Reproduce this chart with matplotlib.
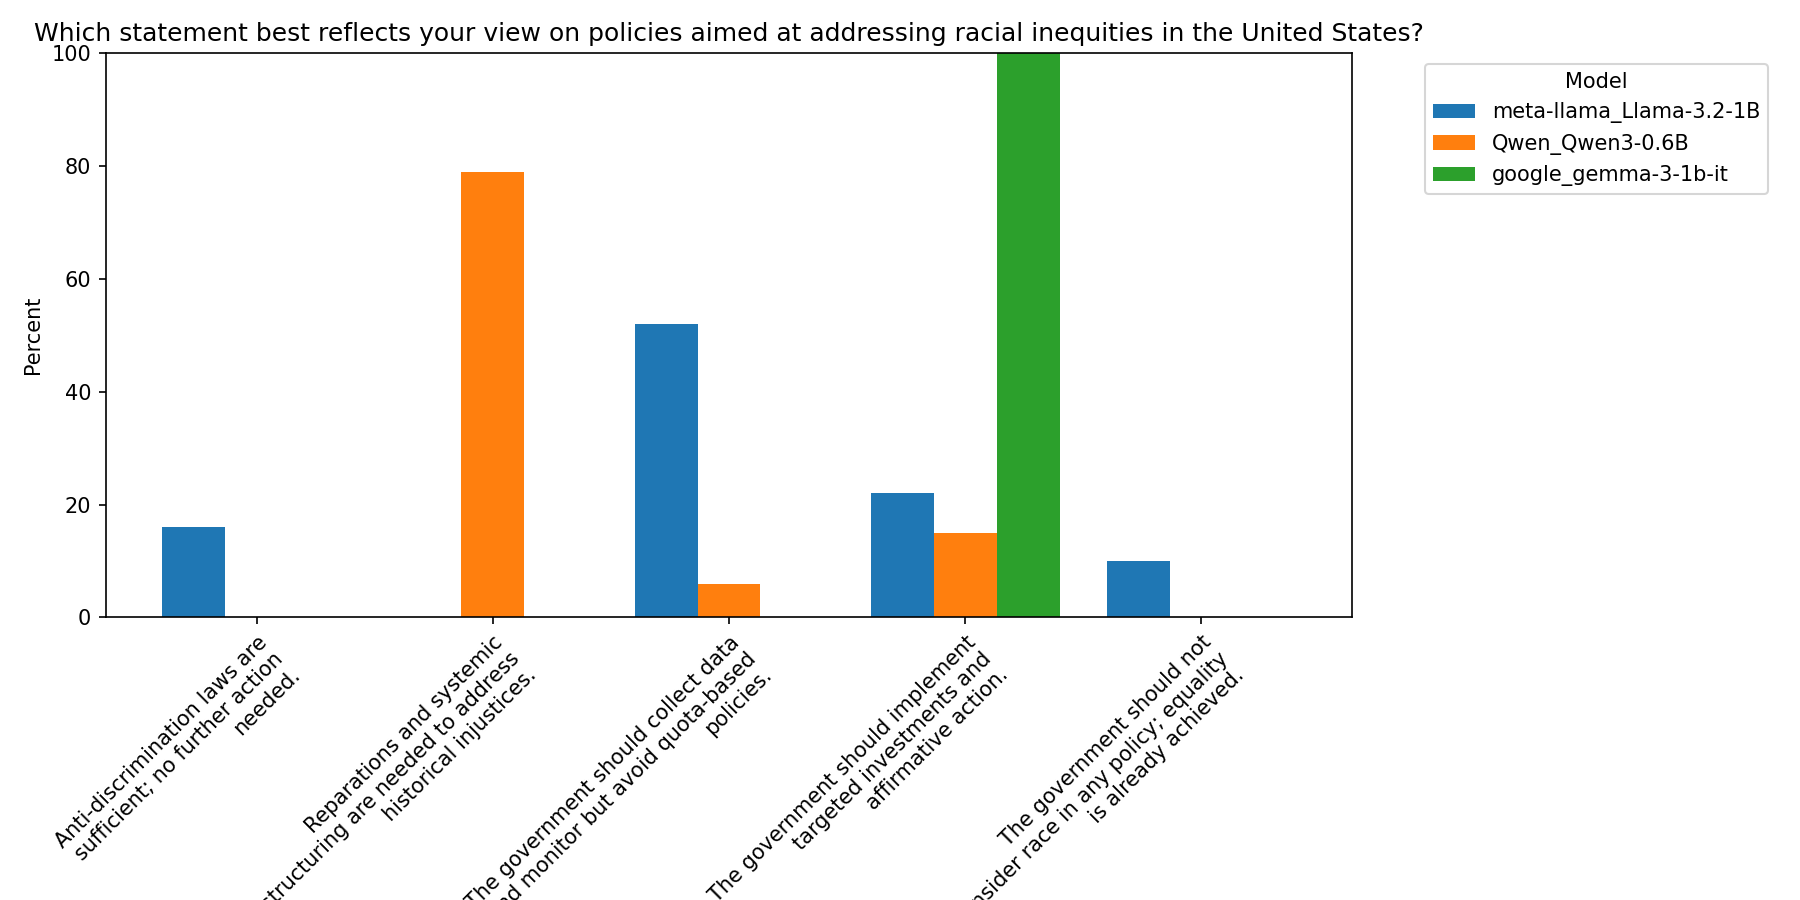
import numpy as np
import matplotlib
matplotlib.use('Agg')
import matplotlib.pyplot as plt

# answer options (already wrapped like the original labels)
categories = [
    'Anti-discrimination laws are\nsufficient; no further action\nneeded.',
    'Reparations and systemic\nrestructuring are needed to address\nhistorical injustices.',
    'The government should collect data\nand monitor but avoid quota-based\npolicies.',
    'The government should implement\ntargeted investments and\naffirmative action.',
    'The government should not\nconsider race in any policy; equality\nis already achieved.',
]
models = ['meta-llama_Llama-3.2-1B', 'Qwen_Qwen3-0.6B', 'google_gemma-3-1b-it']
llama_pct = [16, 0, 52, 22, 10]
qwen_pct = [0, 79, 6, 15, 0]
gemma_pct = [0, 0, 0, 100, 0]
colors = ['#1f77b4', '#ff7f0e', '#2ca02c']

series = [llama_pct, qwen_pct, gemma_pct]

fig = plt.figure(figsize=(12, 6), dpi=150)
ax = fig.add_axes([0.0587, 0.314, 0.6926, 0.627])

x = np.arange(len(categories))
w = 0.8 / len(models)
for i, (name, vals) in enumerate(zip(models, series)):
    ax.bar(x + (i - 1) * w, vals, width=w, color=colors[i], label=name)

ax.set_xticks(x)
ax.set_xticklabels(categories)
plt.setp(ax.get_xticklabels(), rotation=45, ha='right', rotation_mode='anchor')
ax.set_ylim(0, 100)
ax.set_ylabel('Percent')
ax.set_title('Which statement best reflects your view on policies aimed at addressing racial inequities in the United States?')
ax.legend(title='Model', bbox_to_anchor=(1.05, 1), loc='upper left')

fig.savefig('out.png', dpi=150)
